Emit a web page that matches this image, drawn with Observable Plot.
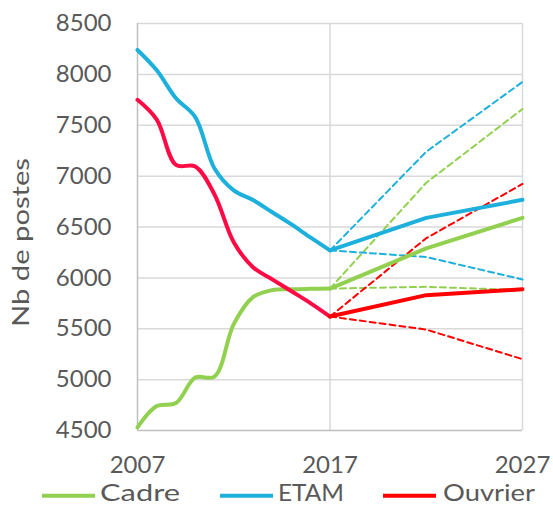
<!DOCTYPE html>
<html><head><meta charset="utf-8">
<script src="https://cdn.jsdelivr.net/npm/d3@7"></script>
<script src="https://cdn.jsdelivr.net/npm/@observablehq/plot@0.6"></script>
<style>
body{margin:0;background:#fff;}
#chart{width:553px;height:506px;overflow:hidden;}
#chart svg{display:block;}
#chart svg.legend{margin-top:-8px;position:relative;}
</style></head><body><div id="chart"></div>
<script>
// Historical series (yearly)
const years   = [2007, 2008, 2009, 2010, 2011, 2012, 2013, 2014, 2015, 2016, 2017];
const cadre   = [4530, 4740, 4770, 5020, 5030, 5545, 5810, 5880, 5888, 5892, 5895];
const etam    = [8240, 8040, 7765, 7580, 7075, 6860, 6765, 6645, 6525, 6395, 6270];
const ouvrier = [7750, 7555, 7110, 7095, 6820, 6350, 6105, 5985, 5868, 5750, 5620];

// Projections
const projYears   = [2017, 2022, 2027];
const cadreProj   = [5895, 6290, 6590];
const cadreHigh   = [5895, 6935, 7660];
const cadreLow    = [5895, 5912, 5880];
const etamProj    = [6270, 6590, 6767];
const etamHigh    = [6270, 7240, 7926];
const etamLow     = [6270, 6205, 5985];
const ouvrierProj = [5620, 5830, 5888];
const ouvrierHigh = [5620, 6390, 6923];
const ouvrierLow  = [5620, 5492, 5201];

const xTicks = [2007, 2017, 2027];
const yTicks = [4500, 5000, 5500, 6000, 6500, 7000, 7500, 8000, 8500];
const seriesNames = ["Cadre", "ETAM", "Ouvrier"];
const yLabel = "Nb de postes";

const GREEN = "#92D050", BLUE = "#1DB0DC", RED_H = "#FF0A45", RED = "#FF0000";
const colors = [GREEN, BLUE, RED];

const toRows = (xs, vs) => xs.map((x, i) => ({x, y: vs[i]}));

const solidHist = [[cadre, GREEN], [etam, BLUE], [ouvrier, RED_H]];
const solidProj = [[cadreProj, GREEN], [etamProj, BLUE], [ouvrierProj, RED]];
const dashed = [[cadreHigh, GREEN], [cadreLow, GREEN], [etamHigh, BLUE], [etamLow, BLUE], [ouvrierHigh, RED], [ouvrierLow, RED]];

const FONT = "Lato, 'DejaVu Sans', sans-serif";

const plot = Plot.plot({
  width: 553,
  height: 484,
  marginLeft: 137,
  marginRight: 31,
  marginTop: 23,
  marginBottom: 54,
  style: {fontFamily: FONT, fontSize: "24px", fontWeight: 400, color: "#595959", background: "#fff"},
  x: {domain: [2007, 2027]},
  y: {domain: [4500, 8500]},
  marks: [
    Plot.ruleY(yTicks.filter(v => v > 4500), {stroke: "#d9d9d9", strokeWidth: 1.5}),
    Plot.ruleX([2017, 2027], {stroke: "#d9d9d9", strokeWidth: 1.5}),
    Plot.ruleX([2007], {stroke: "#bfbfbf", strokeWidth: 1.5}),
    Plot.ruleY([4500], {stroke: "#bfbfbf", strokeWidth: 1.5}),
    ...dashed.map(([vs, c]) => Plot.line(toRows(projYears, vs), {x: "x", y: "y", stroke: c, strokeWidth: 2, strokeDasharray: "6,4"})),
    ...solidHist.map(([vs, c]) => Plot.line(toRows(years, vs), {x: "x", y: "y", stroke: c, strokeWidth: 4, curve: "catmull-rom"})),
    ...solidProj.map(([vs, c]) => Plot.line(toRows(projYears, vs), {x: "x", y: "y", stroke: c, strokeWidth: 4})),
    Plot.axisX({ticks: xTicks, tickFormat: d => String(d), tickSize: 0, tickPadding: 25, label: null}),
    Plot.axisY({ticks: yTicks, tickFormat: d => String(d), tickSize: 0, tickPadding: 26, label: null}),
    Plot.text([yLabel], {text: d => d, frameAnchor: "left", textAnchor: "middle", rotate: -90, dx: -116.5, dy: 15.5, fill: "#595959", fontSize: 24})
  ]
});
document.getElementById("chart").appendChild(plot);
// widen the y label to the reference's (wider) typeface length
d3.select(plot).selectAll("text").filter(function() { return this.textContent === yLabel; })
  .attr("textLength", 169).attr("lengthAdjust", "spacingAndGlyphs");

// Legend below the plot
const legend = d3.create("svg").attr("class", "legend").attr("width", 553).attr("height", 30)
  .style("font-family", FONT).style("font-size", "24px").style("font-weight", 400);
const legendPos = [[42, 100, 80], [220, 278, 66], [383, 443, 92]];
seriesNames.forEach((name, i) => {
  const [sx, tx, tl] = legendPos[i];
  legend.append("line").attr("x1", sx).attr("x2", sx + 53).attr("y1", 19.7).attr("y2", 19.7)
    .attr("stroke", colors[i]).attr("stroke-width", 4);
  legend.append("text").attr("x", tx).attr("y", 25).attr("fill", "#595959")
    .attr("textLength", tl).attr("lengthAdjust", "spacingAndGlyphs").text(name);
});
document.getElementById("chart").appendChild(legend.node());
</script>
</body></html>
